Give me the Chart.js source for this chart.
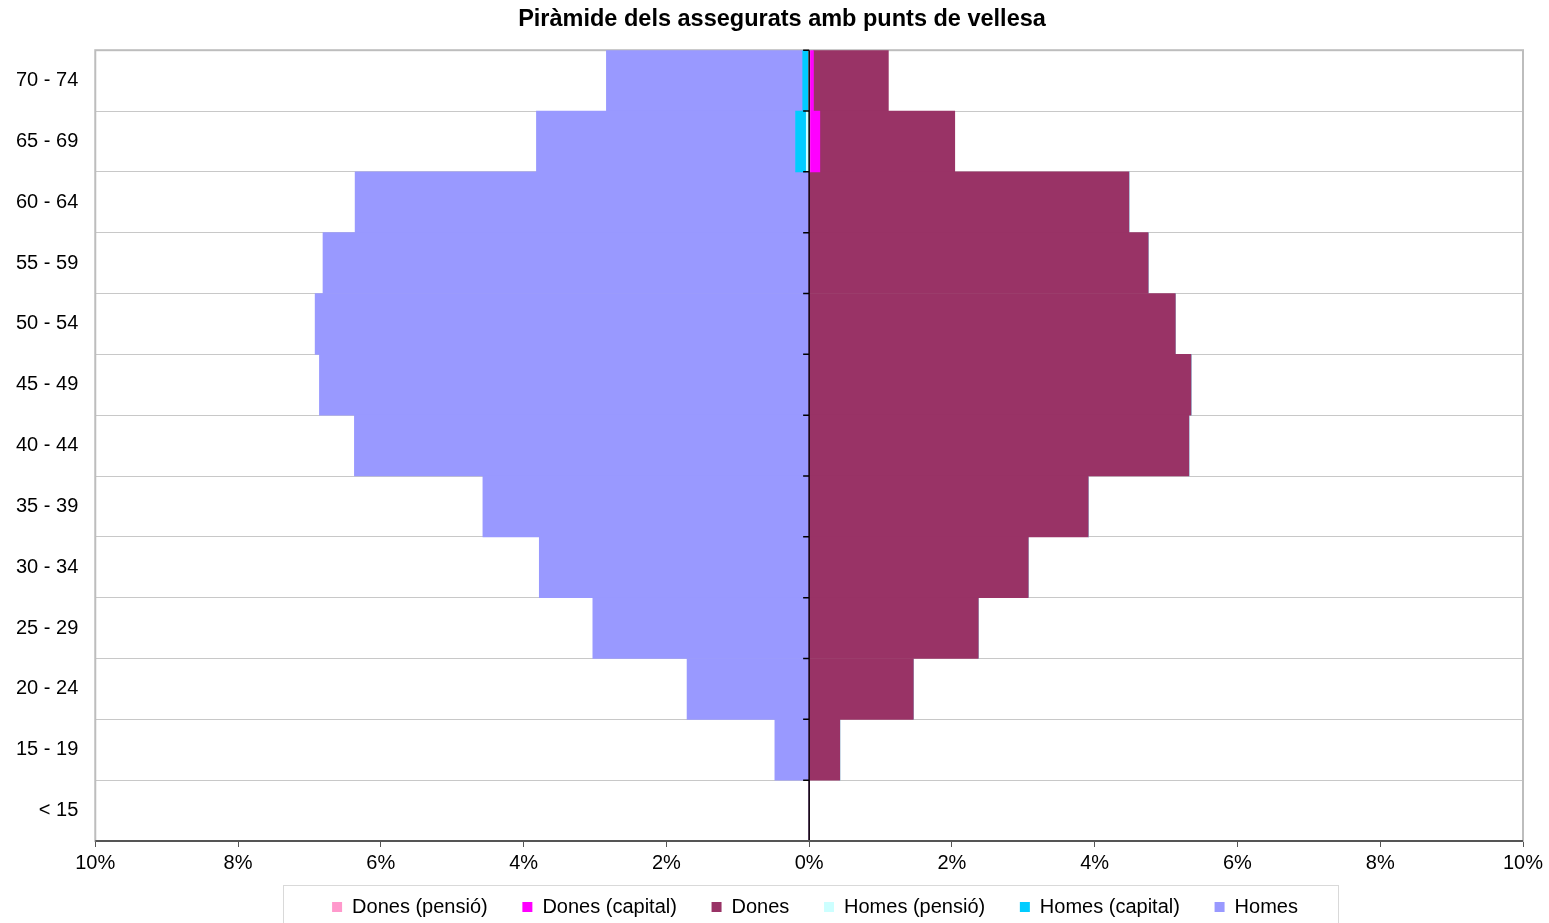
<!DOCTYPE html>
<html>
<head>
<meta charset="utf-8">
<script src="https://cdn.jsdelivr.net/npm/chart.js@4"></script>
<style>
  body { margin: 0; background: #fff; }
  #wrap { width: 1549px; height: 923px; }
</style>
</head>
<body>
<div id="wrap"><canvas id="pyramid" width="1549" height="923"></canvas></div>
<script>
const ageGroups = ['70 - 74', '65 - 69', '60 - 64', '55 - 59', '50 - 54', '45 - 49', '40 - 44', '35 - 39', '30 - 34', '25 - 29', '20 - 24', '15 - 19', '< 15'];

// percentages; men are drawn to the left (negative)
const donesPensio  = [0.01, 0.01, 0, 0, 0, 0, 0, 0, 0, 0, 0, 0, 0];
const donesCapital = [0.05, 0.14, 0, 0, 0, 0, 0, 0, 0, 0, 0, 0, 0];
const dones        = [1.05, 1.89, 4.48, 4.75, 5.13, 5.35, 5.32, 3.91, 3.07, 2.37, 1.46, 0.43, 0];
const homesPensio  = [0.01, 0.04, 0, 0, 0, 0, 0, 0, 0, 0, 0, 0, 0];
const homesCapital = [0.08, 0.15, 0, 0, 0, 0, 0, 0, 0, 0, 0, 0, 0];
const homes        = [2.75, 3.63, 6.36, 6.81, 6.92, 6.86, 6.37, 4.57, 3.78, 3.03, 1.71, 0.48, 0];

const xTicks = [-10, -8, -6, -4, -2, 0, 2, 4, 6, 8, 10];

const neg = arr => arr.map(v => -v);

// frame around the plot area and the legend, zero axis with its ticks
const framePlugin = {
    id: 'frame',
    afterLayout(chart) {
        // title and legend sit a bit right of centre in the original
        chart.titleBlock.left += 21;
        chart.titleBlock.right += 21;
        chart.legend.left += 54;
        chart.legend.right += 54;
    },
    beforeDatasetsDraw(chart) {
        const { ctx, chartArea: a } = chart;
        ctx.save();
        ctx.strokeStyle = '#bdbdbd';
        ctx.lineWidth = 2;
        ctx.strokeRect(a.left, a.top, a.right - a.left, a.bottom - a.top);
        ctx.restore();
    },
    afterDraw(chart) {
        const { ctx, chartArea: a } = chart;
        const x0 = chart.scales.x.getPixelForValue(0);
        const y = chart.scales.y;
        ctx.save();
        ctx.strokeStyle = '#000';
        ctx.lineWidth = 1.5;
        ctx.beginPath();
        ctx.moveTo(x0, a.top);
        ctx.lineTo(x0, a.bottom);
        for (let i = 0; i <= ageGroups.length; i++) {
            const py = y.getPixelForValue(i - 0.5);
            ctx.moveTo(x0 - 6, py);
            ctx.lineTo(x0, py);
        }
        ctx.stroke();
        ctx.strokeStyle = '#555';
        ctx.lineWidth = 2;
        ctx.beginPath();
        ctx.moveTo(a.left, a.bottom);
        ctx.lineTo(a.right, a.bottom);
        ctx.stroke();
        ctx.strokeStyle = '#d9d9d9';
        ctx.lineWidth = 1;
        ctx.strokeRect(283.5, 885.5, 1055, 50);
        ctx.restore();
    }
};

const ctx = document.getElementById('pyramid').getContext('2d');

new Chart(ctx, {
    type: 'bar',
    data: {
        labels: ageGroups,
        datasets: [
            { label: 'Dones (pensió)', data: donesPensio, backgroundColor: '#ff99cc' },
            { label: 'Dones (capital)', data: donesCapital, backgroundColor: '#ff00ff' },
            { label: 'Dones', data: dones, backgroundColor: '#993366' },
            { label: 'Homes (pensió)', data: neg(homesPensio), backgroundColor: '#ccffff' },
            { label: 'Homes (capital)', data: neg(homesCapital), backgroundColor: '#00ccff' },
            { label: 'Homes', data: neg(homes), backgroundColor: '#9999ff' }
        ]
    },
    options: {
        indexAxis: 'y',
        responsive: false,
        animation: false,
        datasets: {
            bar: { barPercentage: 1, categoryPercentage: 1, borderWidth: 0 }
        },
        layout: { padding: { left: -1, right: 26, top: 1, bottom: -4 } },
        scales: {
            x: {
                stacked: true,
                min: -10,
                max: 10,
                afterBuildTicks(scale) {
                    scale.ticks = xTicks.map(v => ({ value: v }));
                },
                grid: {
                    color: 'transparent',
                    tickColor: '#555',
                    tickLength: 6,
                    drawOnChartArea: false
                },
                border: { display: false },
                ticks: {
                    color: '#000',
                    font: { family: 'Liberation Sans, Arial', size: 20 },
                    padding: 4,
                    callback: v => Math.abs(v) + '%'
                }
            },
            y: {
                stacked: true,
                grid: { color: '#c8c8c8', lineWidth: 1, drawTicks: false, offset: true },
                border: { display: false },
                ticks: {
                    color: '#000',
                    font: { family: 'Liberation Sans, Arial', size: 20 },
                    padding: 17
                }
            }
        },
        plugins: {
            title: {
                display: true,
                text: 'Piràmide dels assegurats amb punts de vellesa',
                color: '#000',
                font: { family: 'Liberation Sans, Arial', size: 23.5, weight: 'bold' },
                padding: { top: 4, bottom: 17 }
            },
            legend: {
                position: 'bottom',
                labels: {
                    color: '#000',
                    boxWidth: 10,
                    boxHeight: 10,
                    padding: 18,
                    font: { family: 'Liberation Sans, Arial', size: 20 },
                    generateLabels(chart) {
                        const items = Chart.defaults.plugins.legend.labels.generateLabels(chart);
                        items.forEach((it, i) => {
                            if (i < items.length - 1) it.text += '   ';
                        });
                        return items;
                    }
                }
            },
            tooltip: { enabled: false }
        }
    },
    plugins: [framePlugin]
});
</script>
</body>
</html>
